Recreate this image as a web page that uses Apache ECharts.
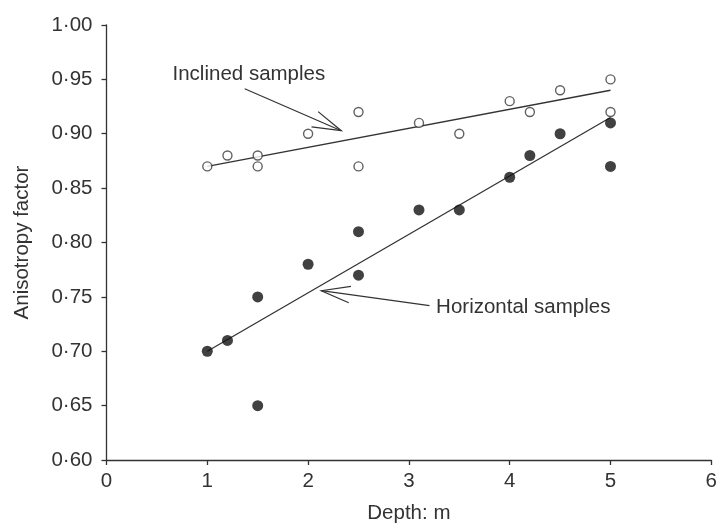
<!DOCTYPE html>
<html>
<head>
<meta charset="utf-8">
<script src="https://cdn.jsdelivr.net/npm/echarts@6/dist/echarts.min.js"></script>
<style>
  html, body { margin: 0; padding: 0; background: #fff; }
  #chart { width: 720px; height: 529px; }
</style>
</head>
<body>
<div id="chart"></div>
<script>
// Depth (m) of each sample
const depths = [1, 1.2, 1.5, 1.5, 2, 2.5, 2.5, 3.1, 3.5, 4, 4.2, 4.5, 5, 5];
// Anisotropy factor of inclined samples (open circles)
const inclined = [0.87, 0.88, 0.88, 0.87, 0.90, 0.92, 0.87, 0.91, 0.90, 0.93, 0.92, 0.94, 0.95, 0.92];
// Anisotropy factor of horizontal samples (filled circles)
const horizontal = [0.70, 0.71, 0.75, 0.65, 0.78, 0.81, 0.77, 0.83, 0.83, 0.86, 0.88, 0.90, 0.91, 0.87];

// Fitted trend lines
const fitDepths = [1, 5];
const fitInclined = [0.87, 0.94];
const fitHorizontal = [0.70, 0.915];

// Annotation callouts: text, text anchor, arrow tail and arrow tip (data units)
const calloutTexts = ['Inclined samples', 'Horizontal samples'];
const calloutTextAt = [[0.655, 0.9545], [3.27, 0.7404]];
const calloutTails = [[1.371, 0.9414], [3.204, 0.742]];
const calloutTips = [[2.329, 0.9028], [2.131, 0.7557]];

const ink = '#333';
const font = '"Liberation Sans", Arial, Helvetica, sans-serif';
const fs = 20.5;
const pairs = (xs, ys) => xs.map((x, i) => [x, ys[i]]);

const chart = echarts.init(document.getElementById('chart'), null, { renderer: 'canvas' });

chart.setOption({
  animation: false,
  backgroundColor: '#fff',
  grid: { left: 106.5, right: 8, top: 25, bottom: 64.7, containLabel: false },
  xAxis: {
    type: 'value', min: 0, max: 6, interval: 1,
    name: 'Depth: m', nameLocation: 'middle', nameGap: 43,
    nameTextStyle: { color: ink, fontSize: fs, fontFamily: font },
    axisLine: { onZero: false, lineStyle: { color: ink, width: 1.3 } },
    axisTick: { show: true, length: 5, inside: false, lineStyle: { color: ink, width: 1.3 } },
    axisLabel: { color: ink, fontSize: fs, fontFamily: font, margin: 11 },
    splitLine: { show: false }
  },
  yAxis: {
    type: 'value', min: 0.60, max: 1.00, interval: 0.05,
    name: 'Anisotropy factor', nameLocation: 'middle', nameGap: 74, nameRotate: 90,
    nameTextStyle: { color: ink, fontSize: fs, fontFamily: font },
    axisLine: { show: true, onZero: false, lineStyle: { color: ink, width: 1.3 } },
    axisTick: { show: true, length: 5, inside: false, lineStyle: { color: ink, width: 1.3 } },
    axisLabel: {
      color: ink, fontSize: fs, fontFamily: font, margin: 14,
      formatter: v => v.toFixed(2).replace('.', '\u00b7')
    },
    splitLine: { show: false }
  },
  series: [
    {
      name: 'Inclined fit', type: 'line', data: pairs(fitDepths, fitInclined),
      symbol: 'none', lineStyle: { color: ink, width: 1.3 }, z: 2
    },
    {
      name: 'Horizontal fit', type: 'line', data: pairs(fitDepths, fitHorizontal),
      symbol: 'none', lineStyle: { color: ink, width: 1.3 }, z: 2
    },
    {
      name: 'Inclined samples', type: 'scatter', data: pairs(depths, inclined),
      symbol: 'circle', symbolSize: 9,
      itemStyle: { color: '#fff', borderColor: '#3a3a3a', borderWidth: 1.4 }, z: 3
    },
    {
      name: 'Horizontal samples', type: 'scatter', data: pairs(depths, horizontal),
      symbol: 'circle', symbolSize: 11,
      itemStyle: { color: '#111', borderColor: '#111', borderWidth: 0 }, z: 3
    },
    {
      name: 'Callouts', type: 'custom', silent: true, z: 4,
      data: calloutTexts.map((t, i) => [calloutTails[i][0], calloutTails[i][1], calloutTips[i][0], calloutTips[i][1], calloutTextAt[i][0], calloutTextAt[i][1], i]),
      renderItem: function (params, api) {
        const tail = api.coord([api.value(0), api.value(1)]);
        const tip = api.coord([api.value(2), api.value(3)]);
        const txt = api.coord([api.value(4), api.value(5)]);
        const idx = api.value(6);
        const ang = Math.atan2(tail[1] - tip[1], tail[0] - tip[0]);
        const headLen = 30, spread = 16 * Math.PI / 180;
        const h1 = [tip[0] + headLen * Math.cos(ang + spread), tip[1] + headLen * Math.sin(ang + spread)];
        const h2 = [tip[0] + headLen * Math.cos(ang - spread), tip[1] + headLen * Math.sin(ang - spread)];
        const stroke = { stroke: ink, lineWidth: 1.2, fill: null };
        return {
          type: 'group',
          children: [
            { type: 'polyline', shape: { points: [tail, tip] }, style: stroke },
            { type: 'polyline', shape: { points: [h1, tip, h2] }, style: stroke },
            {
              type: 'text', x: txt[0], y: txt[1],
              style: {
                text: calloutTexts[idx], fill: ink, fontSize: fs, fontFamily: font,
                align: 'left', verticalAlign: 'middle'
              }
            }
          ]
        };
      }
    }
  ]
});
</script>
</body>
</html>
